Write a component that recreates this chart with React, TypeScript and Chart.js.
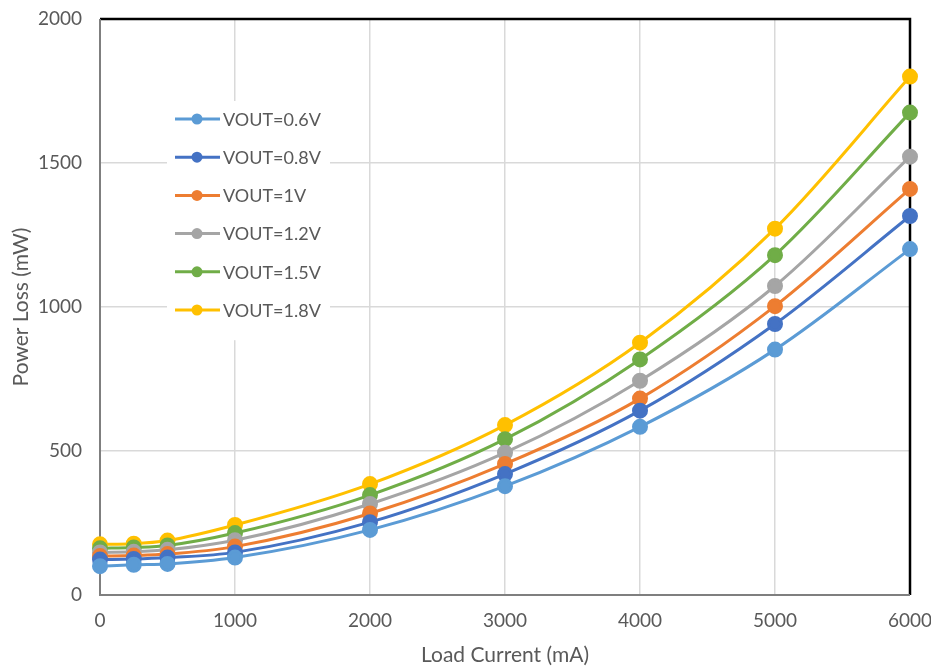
import React, { useEffect, useRef } from "react";
import { Chart, registerables } from "chart.js";

Chart.register(...registerables);

const loadCurrent = [0, 250, 500, 1000, 2000, 3000, 4000, 5000, 6000];
const seriesLabels = ["VOUT=0.6V", "VOUT=0.8V", "VOUT=1V", "VOUT=1.2V", "VOUT=1.5V", "VOUT=1.8V"];
const vout06 = [100, 105, 108, 130, 226, 378, 584, 852, 1201];
const vout08 = [123, 125, 130, 148, 253, 420, 640, 941, 1316];
const vout10 = [135, 137, 142, 168, 283, 455, 682, 1003, 1410];
const vout12 = [148, 150, 157, 190, 316, 494, 744, 1073, 1522];
const vout15 = [162, 165, 172, 215, 347, 541, 818, 1180, 1675];
const vout18 = [176, 178, 189, 243, 385, 590, 876, 1272, 1800];
const seriesColors = ["#5B9BD5", "#4472C4", "#ED7D31", "#A5A5A5", "#70AD47", "#FFC000"];
const xTicks = [0, 1000, 2000, 3000, 4000, 5000, 6000];
const yTicks = [0, 500, 1000, 1500, 2000];

const FONT = "Lato, 'Open Sans', sans-serif";
const TEXT = "#595959";

const frameLines = {
  id: "frameLines",
  beforeDatasetsDraw(chart: any) {
    const { ctx, chartArea } = chart;
    const { left, right, top, bottom } = chartArea;
    ctx.save();
    ctx.lineWidth = 2.5;
    ctx.strokeStyle = "#000000";
    ctx.beginPath();
    ctx.moveTo(left, top);
    ctx.lineTo(right, top);
    ctx.lineTo(right, bottom);
    ctx.stroke();
    ctx.strokeStyle = "#7F7F7F";
    ctx.lineWidth = 2;
    ctx.beginPath();
    ctx.moveTo(left, top);
    ctx.lineTo(left, bottom);
    ctx.lineTo(right, bottom);
    ctx.stroke();
    ctx.restore();
  },
};

const boxLegend = {
  id: "boxLegend",
  afterDatasetsDraw(chart: any) {
    const { ctx, chartArea } = chart;
    const x0 = chartArea.left + 67;
    const y0 = chartArea.top + 82;
    const rowH = 38.2;
    const n = chart.data.datasets.length;
    ctx.save();
    ctx.fillStyle = "#ffffff";
    ctx.fillRect(x0, y0, 163, rowH * n + 10);
    chart.data.datasets.forEach((ds: any, i: number) => {
      const cy = y0 + 18 + i * rowH;
      ctx.strokeStyle = ds.borderColor;
      ctx.lineWidth = 3;
      ctx.beginPath();
      ctx.moveTo(x0 + 8, cy);
      ctx.lineTo(x0 + 53, cy);
      ctx.stroke();
      ctx.fillStyle = ds.borderColor;
      ctx.beginPath();
      ctx.arc(x0 + 30, cy, 5.5, 0, Math.PI * 2);
      ctx.fill();
      ctx.fillStyle = TEXT;
      ctx.font = `18px ${FONT}`;
      ctx.textBaseline = "middle";
      ctx.textAlign = "left";
      ctx.fillText(ds.label, x0 + 56, cy + 1);
    });
    ctx.restore();
  },
};

export default function App() {
  const ref = useRef<HTMLCanvasElement | null>(null);

  useEffect(() => {
    if (!ref.current) return;
    const all = [vout06, vout08, vout10, vout12, vout15, vout18];
    const datasets = all.map((vals, i) => ({
      label: seriesLabels[i],
      data: vals.map((v, j) => ({ x: loadCurrent[j], y: v })),
      borderColor: seriesColors[i],
      backgroundColor: seriesColors[i],
      pointBackgroundColor: seriesColors[i],
      pointBorderColor: seriesColors[i],
      pointRadius: 6.5,
      pointHoverRadius: 6.5,
      borderWidth: 3,
      cubicInterpolationMode: "monotone" as const,
      clip: false as any,
    }));
    const chart = new Chart(ref.current, {
      type: "line",
      data: { datasets },
      options: {
        animation: false,
        responsive: true,
        maintainAspectRatio: false,
        layout: { padding: { left: 0, right: 21, top: 19, bottom: 0 } },
        plugins: {
          legend: { display: false },
          tooltip: { enabled: false },
        },
        scales: {
          x: {
            type: "linear",
            min: 0,
            max: 6000,
            afterFit: (s: any) => {
              s.height = 73;
              s.paddingLeft = 0;
              s.paddingRight = 0;
            },
            afterBuildTicks: (s: any) => {
              s.ticks = xTicks.map((v) => ({ value: v }));
            },
            grid: { color: "#D9D9D9", lineWidth: 1.5, drawTicks: false },
            border: { display: false },
            ticks: {
              color: TEXT,
              font: { family: FONT, size: 19 },
              padding: 14,
              maxRotation: 0,
              callback: (v: any) => String(v),
            },
            title: {
              display: true,
              text: "Load Current (mA)",
              color: TEXT,
              font: { family: FONT, size: 21 },
              padding: { top: 0, bottom: 0 },
            },
          },
          y: {
            type: "linear",
            min: 0,
            max: 2000,
            afterFit: (s: any) => {
              s.width = 100;
              s.paddingTop = 0;
              s.paddingBottom = 0;
            },
            afterBuildTicks: (s: any) => {
              s.ticks = yTicks.map((v) => ({ value: v }));
            },
            grid: { color: "#D9D9D9", lineWidth: 1.5, drawTicks: false },
            border: { display: false },
            ticks: {
              color: TEXT,
              font: { family: FONT, size: 19 },
              padding: 18,
              callback: (v: any) => String(v),
            },
            title: {
              display: true,
              text: "Power Loss (mW)",
              color: TEXT,
              font: { family: FONT, size: 21 },
              padding: { top: 9, bottom: 0 },
            },
          },
        },
      },
      plugins: [frameLines, boxLegend],
    });
    return () => chart.destroy();
  }, []);

  return (
    <div style={{ position: "absolute", left: 0, top: 0, width: 931, height: 668, background: "#fff" }}>
      <canvas ref={ref} />
    </div>
  );
}
